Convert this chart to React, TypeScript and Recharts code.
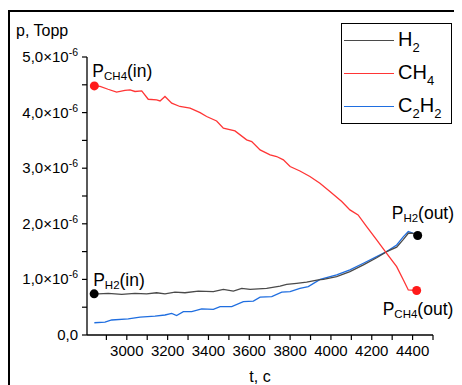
import React from "react";
import { LineChart, Line, XAxis, YAxis, Legend, ReferenceDot, Label } from "recharts";

// pressure values are in units of 1e-6 Torr, time in seconds
const h2Time = [2840, 2860, 2909, 2975, 3040, 3097, 3146, 3187, 3236, 3285, 3350, 3424, 3473, 3522, 3563, 3604, 3685, 3751, 3783, 3832, 3881, 3938, 3963, 4028, 4093, 4159, 4224, 4273, 4322, 4355, 4379, 4397, 4425];
const h2Values = [0.74, 0.74, 0.75, 0.73, 0.75, 0.74, 0.76, 0.74, 0.77, 0.76, 0.79, 0.78, 0.82, 0.79, 0.84, 0.82, 0.84, 0.88, 0.91, 0.93, 0.95, 0.99, 1.0, 1.05, 1.14, 1.26, 1.39, 1.5, 1.58, 1.72, 1.83, 1.83, 1.79];

const ch4Time = [2841, 2869, 2908, 2950, 2991, 3016, 3040, 3073, 3105, 3146, 3163, 3187, 3220, 3260, 3310, 3359, 3391, 3440, 3473, 3530, 3587, 3612, 3653, 3702, 3734, 3767, 3800, 3848, 3897, 3946, 3995, 4053, 4093, 4133, 4175, 4224, 4273, 4322, 4355, 4379, 4420];
const ch4Values = [4.48, 4.47, 4.42, 4.37, 4.4, 4.41, 4.38, 4.39, 4.24, 4.23, 4.21, 4.29, 4.17, 4.11, 4.08, 4.0, 3.93, 3.85, 3.72, 3.67, 3.51, 3.48, 3.33, 3.24, 3.21, 3.15, 3.03, 2.95, 2.85, 2.73, 2.58, 2.4, 2.25, 2.16, 1.95, 1.71, 1.47, 1.23, 0.99, 0.81, 0.8];

const c2h2Time = [2841, 2893, 2926, 3007, 3065, 3138, 3187, 3220, 3244, 3277, 3318, 3367, 3424, 3457, 3514, 3571, 3620, 3653, 3710, 3759, 3800, 3848, 3889, 3947, 4028, 4093, 4159, 4224, 4273, 4322, 4355, 4379, 4404];
const c2h2Values = [0.22, 0.23, 0.27, 0.29, 0.32, 0.34, 0.36, 0.39, 0.35, 0.42, 0.42, 0.47, 0.46, 0.51, 0.51, 0.6, 0.61, 0.68, 0.69, 0.77, 0.78, 0.84, 0.87, 1.0, 1.08, 1.17, 1.29, 1.41, 1.5, 1.62, 1.77, 1.86, 1.83];

const xTicks = [2900, 3000, 3100, 3200, 3300, 3400, 3500, 3600, 3700, 3800, 3900, 4000, 4100, 4200, 4300, 4400, 4500];
const yTicks = [0, 0.5, 1, 1.5, 2, 2.5, 3, 3.5, 4, 4.5, 5];

const zip = (ts: number[], vs: number[]) => ts.map((t, i) => ({ t, p: vs[i] }));
const h2Data = zip(h2Time, h2Values);
const ch4Data = zip(ch4Time, ch4Values);
const c2h2Data = zip(c2h2Time, c2h2Values);

const FONT = "'Liberation Sans', Arial, sans-serif";
const GREY = "#4a4a4a";
const RED = "#ff3535";
const BLUE = "#1f6ee0";

const YTick = (props: any) => {
  const { x, y, payload } = props;
  const v = payload.value;
  if (!Number.isInteger(v)) return null;
  if (v === 0) {
    return (
      <text x={x} y={y + 5} textAnchor="end" fontSize={15} fontFamily={FONT} fill="#000">
        0,0
      </text>
    );
  }
  return (
    <text x={x} y={y + 5} textAnchor="end" fontSize={15} fontFamily={FONT} fill="#000">
      {`${v},0×10`}
      <tspan dy={-6} fontSize={10.5}>-6</tspan>
    </text>
  );
};

const XTick = (props: any) => {
  const { x, y, payload } = props;
  if (payload.value % 200 !== 0) return null;
  return (
    <text x={x} y={y + 14} textAnchor="middle" fontSize={15} fontFamily={FONT} fill="#000">
      {payload.value}
    </text>
  );
};

// dot with a "P_sub(suffix)" label beside it
const pointMark = (fill: string, sub: string, suffix: string, dx: number, dy: number) => (props: any) => {
  const { cx, cy } = props;
  return (
    <g>
      <circle cx={cx} cy={cy} r={4.5} fill={fill} />
      <text x={cx + dx} y={cy + dy} fontSize={17.5} fontFamily={FONT} fill="#000">
        P
        <tspan dy={3} fontSize={11.5}>{sub}</tspan>
        <tspan dy={-3}>{suffix}</tspan>
      </text>
    </g>
  );
};

const legendRows = [
  { color: GREY, name: "H", sub: ["2"], after: [""] },
  { color: RED, name: "CH", sub: ["4"], after: [""] },
  { color: BLUE, name: "C", sub: ["2", "2"], after: ["H", ""] },
];

const LegendBox = () => (
  <div
    style={{
      border: "1px solid #000",
      width: 109,
      height: 99,
      background: "#fff",
      fontFamily: FONT,
    }}
  >
    {legendRows.map((r, i) => (
      <div key={i} style={{ height: 33, display: "flex", alignItems: "center" }}>
        <div style={{ width: 50, height: 0, borderTop: `1.3px solid ${r.color}`, marginLeft: 2 }} />
        <div style={{ marginLeft: 4, fontSize: 20, lineHeight: "20px", whiteSpace: "nowrap" }}>
          {r.name}
          {r.sub.map((s, j) => (
            <React.Fragment key={j}>
              <span style={{ fontSize: 13, position: "relative", top: 6 }}>{s}</span>
              {r.after[j]}
            </React.Fragment>
          ))}
        </div>
      </div>
    ))}
  </div>
);

export default function App() {
  return (
    <div style={{ position: "relative", width: 454, height: 377, overflow: "hidden" }}>
      <div
        style={{
          position: "absolute",
          left: 0,
          top: 2,
          width: 700,
          height: 700,
          border: "2px solid #000",
        }}
      />
      <LineChart width={454} height={377} margin={{ top: 49, right: 29, bottom: 0, left: 0 }}>
        <XAxis
          type="number"
          dataKey="t"
          domain={[2805, 4500]}
          ticks={xTicks}
          interval={0}
          allowDataOverflow
          height={50}
          tickSize={5}
          tickMargin={2}
          tick={<XTick />}
          axisLine={{ stroke: "#000", strokeWidth: 1.3 }}
          tickLine={{ stroke: "#000", strokeWidth: 1.2 }}
        >
          <Label
            content={(p: any) => (
              <text
                x={p.viewBox.x + p.viewBox.width / 2}
                y={p.viewBox.y + 47}
                textAnchor="middle"
                fontSize={16}
                fontFamily={FONT}
                fill="#000"
              >
                t, c
              </text>
            )}
          />
        </XAxis>
        <YAxis
          type="number"
          dataKey="p"
          domain={[0, 5]}
          ticks={yTicks}
          interval={0}
          allowDataOverflow
          width={79}
          tickSize={5}
          tickMargin={4}
          tick={<YTick />}
          axisLine={{ stroke: "#000", strokeWidth: 1.3 }}
          tickLine={{ stroke: "#000", strokeWidth: 1.2 }}
        >
          <Label
            content={(p: any) => (
              <text x={p.viewBox.x + 8} y={p.viewBox.y - 21} fontSize={16} fontFamily={FONT} fill="#000">
                p, Topp
              </text>
            )}
          />
        </YAxis>
        <Legend
          layout="horizontal"
          verticalAlign="middle"
          align="center"
          wrapperStyle={{ top: 15, left: 333, width: 111 }}
          content={() => <LegendBox />}
        />
        <Line data={c2h2Data} dataKey="p" type="linear" stroke={BLUE} strokeWidth={1.3} dot={false} isAnimationActive={false} name="C2H2" />
        <Line data={h2Data} dataKey="p" type="linear" stroke={GREY} strokeWidth={1.3} dot={false} isAnimationActive={false} name="H2" />
        <Line data={ch4Data} dataKey="p" type="linear" stroke={RED} strokeWidth={1.3} dot={false} isAnimationActive={false} name="CH4" />
        <ReferenceDot x={ch4Time[0]} y={ch4Values[0]} r={4.5} shape={pointMark("#ff1a1a", "CH4", "(in)", -2, -9)} />
        <ReferenceDot x={h2Time[0]} y={h2Values[0]} r={4.5} shape={pointMark("#000", "H2", "(in)", -1, -8)} />
        <ReferenceDot
          x={h2Time[h2Time.length - 1]}
          y={h2Values[h2Values.length - 1]}
          r={4.5}
          shape={pointMark("#000", "H2", "(out)", -26, -16)}
        />
        <ReferenceDot
          x={ch4Time[ch4Time.length - 1]}
          y={ch4Values[ch4Values.length - 1]}
          r={4.5}
          shape={pointMark("#ff1a1a", "CH4", "(out)", -34, 24)}
        />
      </LineChart>
    </div>
  );
}
